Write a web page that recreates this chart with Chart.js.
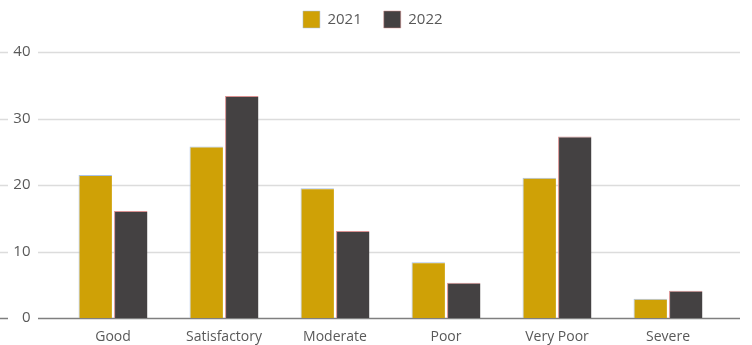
<!DOCTYPE html>
<html>
<head>
<meta charset="utf-8">
<title>AQI category days, 2021 vs 2022</title>
<script src="https://cdn.jsdelivr.net/npm/chart.js@4.4.1/dist/chart.umd.min.js"></script>
<style>
    html, body { margin: 0; padding: 0; background: #ffffff; }
    #wrap { position: relative; width: 752px; height: 345px; }
</style>
</head>
<body>
<div id="wrap"><canvas id="aqiChart"></canvas></div>
<script>
// Chart data
const categories = ['Good', 'Satisfactory', 'Moderate', 'Poor', 'Very Poor', 'Severe'];
const values2021 = [21.5, 25.8, 19.5, 8.4, 21.1, 2.9];
const values2022 = [16.1, 33.4, 13.1, 5.3, 27.3, 4.1];
const yTicks = [0, 10, 20, 30, 40];

const GOLD = '#cfa106';
const DARK = '#444142';
const TEXT = '#595959';

// Gridlines run wider than the category area, and the zero line is darker
const gridPlugin = {
    id: 'wideGrid',
    beforeDraw(chart) {
        const ctx = chart.ctx;
        const y = chart.scales.y;
        ctx.save();
        yTicks.forEach(v => {
            const py = Math.round(y.getPixelForValue(v)) + 0.5;
            ctx.strokeStyle = v === 0 ? '#7f7f7f' : '#dcdcdc';
            ctx.lineWidth = 1.6;
            ctx.beginPath();
            ctx.moveTo(0, py);
            ctx.lineTo(8, py);
            ctx.moveTo(38, py);
            ctx.lineTo(740, py);
            ctx.stroke();
        });
        ctx.restore();
    }
};

// Extra room under the legend, and centre it on the whole canvas
// rather than on the padded area
const legendSpacer = {
    id: 'legendSpacer',
    beforeLayout(chart) {
        const lg = chart.legend;
        if (lg && !lg._spaced) {
            const fit = lg.fit;
            lg.fit = function () {
                fit.call(this);
                this.height += 14;
            };
            lg._spaced = true;
        }
    },
    afterLayout(chart) {
        const lg = chart.legend;
        if (lg) {
            lg.left += 11;
            lg.right += 11;
        }
    }
};

new Chart(document.getElementById('aqiChart'), {
    type: 'bar',
    data: {
        labels: categories,
        datasets: [
            {
                label: '2021',
                data: values2021,
                backgroundColor: GOLD,
                borderColor: '#a9c2ea',
                borderWidth: { top: 1, left: 1, right: 0, bottom: 0 },
                borderSkipped: false
            },
            {
                label: '2022',
                data: values2022,
                backgroundColor: DARK,
                borderColor: '#d99090',
                borderWidth: { top: 1, left: 1, right: 0, bottom: 0 },
                borderSkipped: false
            }
        ]
    },
    options: {
        responsive: true,
        maintainAspectRatio: false,
        animation: false,
        layout: {
            padding: { top: -11, right: 28.5, bottom: 0, left: 0 }
        },
        datasets: {
            bar: {
                categoryPercentage: 0.64,
                barPercentage: 0.94
            }
        },
        plugins: {
            legend: {
                position: 'top',
                labels: {
                    boxWidth: 17,
                    boxHeight: 17,
                    padding: 22,
                    color: TEXT,
                    font: { family: '"Open Sans", sans-serif', size: 15 }
                }
            },
            tooltip: { enabled: false }
        },
        scales: {
            x: {
                grid: { display: false, drawTicks: false },
                border: { display: false },
                ticks: {
                    color: TEXT,
                    padding: 11,
                    font: { family: '"Open Sans", sans-serif', size: 14 }
                },
                afterFit(scale) { scale.height = 27; }
            },
            y: {
                min: 0,
                max: 40,
                grid: { display: false, drawTicks: false },
                border: { display: false },
                ticks: {
                    stepSize: 10,
                    color: TEXT,
                    padding: 27,
                    font: { family: '"Open Sans", sans-serif', size: 15 }
                },
                afterFit(scale) {
                    scale.width = 57.5;
                    scale.paddingTop = 0;
                    scale.paddingBottom = 0;
                }
            }
        }
    },
    plugins: [gridPlugin, legendSpacer]
});
</script>
</body>
</html>
